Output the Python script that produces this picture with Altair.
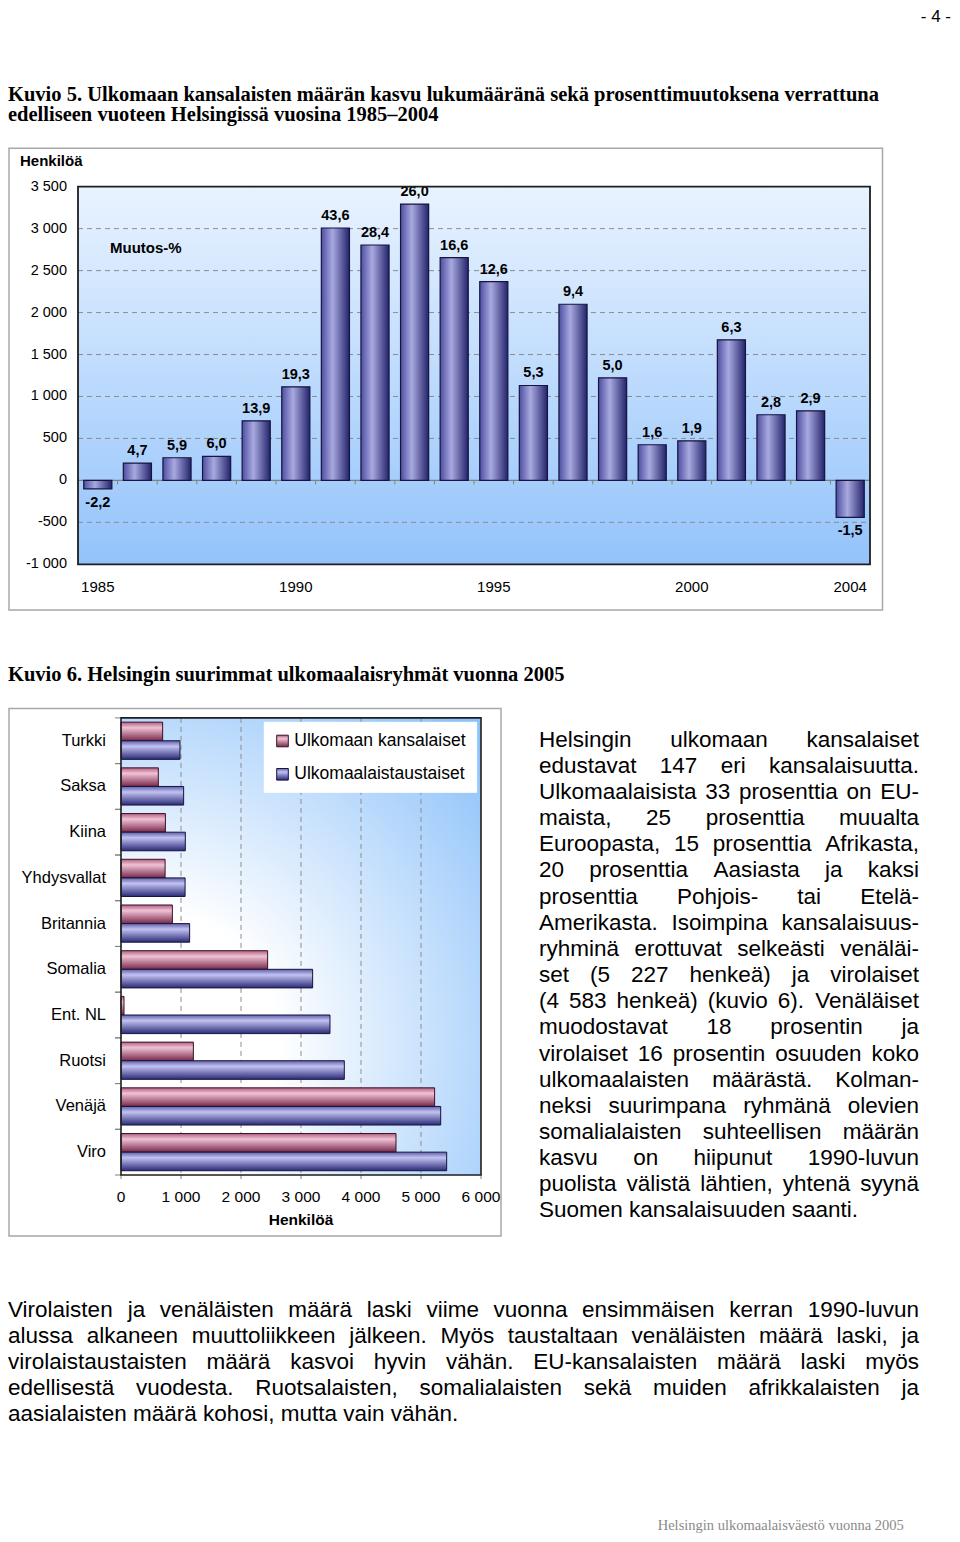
import altair as alt
import pandas as pd

# ------------------------------------------------------------------ data
years = list(range(1985, 2005))
increase = [-100, 206, 270, 286, 710, 1115, 3008, 2805, 3293, 2655,
            2369, 1131, 2099, 1222, 425, 472, 1675, 782, 829, -440]
change_pct = [-2.2, 4.7, 5.9, 6.0, 13.9, 19.3, 43.6, 28.4, 26.0, 16.6,
              12.6, 5.3, 9.4, 5.0, 1.6, 1.9, 6.3, 2.8, 2.9, -1.5]
y1_ticks = [-1000, -500, 0, 500, 1000, 1500, 2000, 2500, 3000, 3500]
y1_grid = [-500, 500, 1000, 1500, 2000, 2500, 3000]
year_ticklabels = [1985, 1990, 1995, 2000, 2004]

countries = ["Turkki", "Saksa", "Kiina", "Yhdysvallat", "Britannia",
             "Somalia", "Ent. NL", "Ruotsi", "Venäjä", "Viro"]
citizens = [694, 622, 740, 735, 856, 2444, 50, 1206, 5227, 4583]
background = [983, 1044, 1072, 1068, 1144, 3194, 3483, 3722, 5328, 5428]
series_names = ["Ulkomaan kansalaiset", "Ulkomaalaistaustaiset"]
x2_ticks = [0, 1000, 2000, 3000, 4000, 5000, 6000]
x2_grid = [1000, 2000, 3000, 4000, 5000]

page_no = "- 4 -"
title5 = ["Kuvio 5. Ulkomaan kansalaisten määrän kasvu lukumääränä sekä prosenttimuutoksena verrattuna",
          "edelliseen vuoteen Helsingissä vuosina 1985–2004"]
title6 = "Kuvio 6. Helsingin suurimmat ulkomaalaisryhmät vuonna 2005"
side_text = [
    "Helsingin ulkomaan kansalaiset",
    "edustavat 147 eri kansalaisuutta.",
    "Ulkomaalaisista 33 prosenttia on EU-",
    "maista, 25 prosenttia muualta",
    "Euroopasta, 15 prosenttia Afrikasta,",
    "20 prosenttia Aasiasta ja kaksi",
    "prosenttia Pohjois- tai Etelä-",
    "Amerikasta. Isoimpina kansalaisuus-",
    "ryhminä erottuvat selkeästi venäläi-",
    "set (5 227 henkeä) ja virolaiset",
    "(4 583 henkeä) (kuvio 6). Venäläiset",
    "muodostavat 18 prosentin ja",
    "virolaiset 16 prosentin osuuden koko",
    "ulkomaalaisten määrästä. Kolman-",
    "neksi suurimpana ryhmänä olevien",
    "somalialaisten suhteellisen määrän",
    "kasvu on hiipunut 1990-luvun",
    "puolista välistä lähtien, yhtenä syynä",
    "Suomen kansalaisuuden saanti.",
]
bottom_text = [
    "Virolaisten ja venäläisten määrä laski viime vuonna ensimmäisen kerran 1990-luvun",
    "alussa alkaneen muuttoliikkeen jälkeen. Myös taustaltaan venäläisten määrä laski, ja",
    "virolaistaustaisten määrä kasvoi hyvin vähän. EU-kansalaisten määrä laski myös",
    "edellisestä vuodesta. Ruotsalaisten, somalialaisten sekä muiden afrikkalaisten ja",
    "aasialaisten määrä kohosi, mutta vain vähän.",
]
footer = "Helsingin ulkomaalaisväestö vuonna 2005"

# ------------------------------------------------------------------ layout
W, H = 944, 1526
SANS = "Liberation Sans"
SERIF = "Liberation Serif"
F1 = (1, 874.5, 140.3, 602.0)      # chart 1 frame
P1 = (70, 862, 178.7, 556.3)       # chart 1 plot area
ZERO1 = P1[3] - (P1[3] - P1[2]) * 1000 / 4500
F2 = (1, 493, 700.6, 1228.0)       # chart 2 frame
P2 = (113, 473, 709.9, 1167.0)     # chart 2 plot area
L2 = (256.3, 468.7, 714.3, 784.3)  # chart 2 legend box
GRID = "#8c8c8c"
TICK = "#808080"

one = pd.DataFrame({"k": [0]})


def box(b, **kw):
    return alt.Chart(one).mark_rect(**kw).encode(
        x=alt.value(b[0]), x2=alt.value(b[1]), y=alt.value(b[2]), y2=alt.value(b[3]))


def grad(stops, x1=0, y1=0, x2=0, y2=1):
    return {"gradient": "linear", "x1": x1, "y1": y1, "x2": x2, "y2": y2,
            "stops": [{"offset": o, "color": c} for o, c in stops]}


def text_layer(rows, **mark):
    return alt.Chart(pd.DataFrame(rows)).mark_text(**mark).encode(
        x=alt.X("x:Q", scale=None, axis=None),
        y=alt.Y("y:Q", scale=None, axis=None),
        text="t:N")


def thousands(v):
    return f"{v:,}".replace(",", " ")


# Arial / Liberation Sans advance widths (1/1000 em) for justification
AW = {' ': 278, '.': 278, ',': 278, '-': 333, '(': 333, ')': 333, '%': 889, '–': 556,
      'a': 556, 'b': 556, 'c': 500, 'd': 556, 'e': 556, 'f': 278, 'g': 556, 'h': 556,
      'i': 222, 'j': 222, 'k': 500, 'l': 222, 'm': 833, 'n': 556, 'o': 556, 'p': 556,
      'q': 556, 'r': 333, 's': 500, 't': 278, 'u': 556, 'v': 500, 'w': 722, 'x': 500,
      'y': 500, 'z': 500, 'ä': 556, 'ö': 556, 'å': 556,
      'A': 667, 'B': 667, 'C': 722, 'D': 722, 'E': 667, 'F': 611, 'G': 778, 'H': 722,
      'I': 278, 'J': 500, 'K': 667, 'L': 556, 'M': 833, 'N': 722, 'O': 778, 'P': 667,
      'Q': 778, 'R': 722, 'S': 667, 'T': 611, 'U': 722, 'V': 667, 'W': 944, 'X': 667,
      'Y': 667, 'Z': 611}


def justify(lines, x0, x1, y0, pitch, size):
    left, right = [], []
    for i, line in enumerate(lines):
        y = y0 + i * pitch
        words = line.split(" ")
        if i == len(lines) - 1 or len(words) < 2:
            left.append({"t": line, "x": x0, "y": y})
            continue
        widths = [sum(AW.get(c, 556) for c in w) * size / 1000 for w in words]
        gap = (x1 - x0 - sum(widths)) / (len(words) - 1)
        x = x0
        for j, w in enumerate(words[:-1]):
            left.append({"t": w, "x": x, "y": y})
            x += widths[j] + gap
        right.append({"t": words[-1], "x": x1, "y": y})
    return left, right


# ------------------------------------------------------------------ chart 1
df1 = pd.DataFrame({"year": years, "count": increase,
                    "label": [f"{v:.1f}".replace(".", ",") for v in change_pct]})
xs1 = alt.Scale(type="band", domain=years, range=[P1[0], P1[1]],
                paddingInner=0.29, paddingOuter=0.145)
xs1_edges = alt.Scale(type="band", domain=years, range=[P1[0], P1[1]],
                      paddingInner=0, paddingOuter=0)
ys1 = alt.Scale(type="linear", domain=[-1000, 3500], range=[P1[3], P1[2]], nice=False)

bar1_fill = grad([(0, "#4e4ea2"), (0.4, "#a9a9e0"), (1, "#23236c")], 0, 0, 1, 0)
bg1_fill = grad([(0, "#e9f3ff"), (1, "#93c3fb")])

grid1 = alt.Chart(pd.DataFrame({"count": y1_grid})).mark_rule(
    color=GRID, strokeDash=[5, 4], strokeWidth=1).encode(
    y=alt.Y("count:Q", scale=ys1, axis=None),
    x=alt.value(P1[0]), x2=alt.value(P1[1]))
zero1 = alt.Chart(pd.DataFrame({"count": [0]})).mark_rule(
    color=TICK, strokeWidth=1.2).encode(
    y=alt.Y("count:Q", scale=ys1, axis=None),
    x=alt.value(P1[0]), x2=alt.value(P1[1]))

bars1 = alt.Chart(df1).mark_bar(fill=bar1_fill, stroke="#15153e", strokeWidth=1.2).encode(
    x=alt.X("year:O", scale=xs1, axis=None),
    y=alt.Y("count:Q", scale=ys1, axis=None),
    y2=alt.datum(0),
)

lab_pos = alt.Chart(df1).transform_filter("datum.count >= 0").mark_text(
    font=SANS, fontSize=14.5, fontWeight="bold", baseline="alphabetic", dy=-8,
    color="#000000").encode(
    x=alt.X("year:O", scale=xs1, axis=None),
    y=alt.Y("count:Q", scale=ys1, axis=None), text="label:N")
lab_neg = alt.Chart(df1).transform_filter("datum.count < 0").mark_text(
    font=SANS, fontSize=14.5, fontWeight="bold", baseline="middle", dy=14,
    color="#000000").encode(
    x=alt.X("year:O", scale=xs1, axis=None),
    y=alt.Y("count:Q", scale=ys1, axis=None), text="label:N")

ylab1 = alt.Chart(pd.DataFrame({"count": y1_ticks,
                                "t": [thousands(v) for v in y1_ticks]})).mark_text(
    font=SANS, fontSize=14.5, align="right", baseline="middle", color="#000000").encode(
    y=alt.Y("count:Q", scale=ys1, axis=None), x=alt.value(P1[0] - 11), text="t:N")
xlab1 = alt.Chart(pd.DataFrame({"year": year_ticklabels,
                                "t": [str(y) for y in year_ticklabels]})).mark_text(
    font=SANS, fontSize=15, align="center", baseline="middle", color="#000000").encode(
    x=alt.X("year:O", scale=xs1, axis=None), y=alt.value(578.7), text="t:N")

chart1 = alt.layer(grid1, zero1, bars1, lab_pos, lab_neg, ylab1, xlab1)

xtick1 = alt.Chart(pd.DataFrame({"year": years})).mark_rule(
    color=TICK, strokeWidth=1).encode(
    x=alt.X("year:O", scale=xs1_edges, axis=None, bandPosition=0),
    y=alt.value(ZERO1), y2=alt.value(ZERO1 + 4))

# ------------------------------------------------------------------ chart 2
df2 = pd.DataFrame({"country": countries * 2,
                    "series": [series_names[0]] * len(countries) + [series_names[1]] * len(countries),
                    "n": citizens + background})
xs2 = alt.Scale(type="linear", domain=[0, 6000], range=[P2[0], P2[1]], nice=False)
ys2 = alt.Scale(type="band", domain=countries, range=[P2[2], P2[3]],
                paddingInner=0.186, paddingOuter=0.093)
ys2_edges = alt.Scale(type="band", domain=countries, range=[P2[2], P2[3]],
                      paddingInner=0, paddingOuter=0)
yo2 = alt.Scale(type="band", domain=series_names, paddingInner=0, paddingOuter=0)

pink_fill = grad([(0, "#b0627f"), (0.3, "#f0c2d5"), (1, "#78284a")])
blue_fill = grad([(0, "#6060aa"), (0.3, "#c2c2f2"), (1, "#2a2a78")])
bg2_fill = {"gradient": "radial", "x1": 0.15, "y1": 0.72, "r1": 0,
            "x2": 0.15, "y2": 0.72, "r2": 1.0,
            "stops": [{"offset": 0, "color": "#ffffff"}, {"offset": 0.3, "color": "#ffffff"},
                      {"offset": 1, "color": "#8cc1fa"}]}

grid2 = alt.Chart(pd.DataFrame({"n": x2_grid})).mark_rule(
    color=GRID, strokeDash=[5, 4], strokeWidth=1).encode(
    x=alt.X("n:Q", scale=xs2, axis=None),
    y=alt.value(P2[2]), y2=alt.value(P2[3]))

pink = alt.Chart(df2).transform_filter(
    alt.datum.series == series_names[0]).mark_bar(
    fill=pink_fill, stroke="#3e1028", strokeWidth=1).encode(
    x=alt.X("n:Q", scale=xs2, axis=None),
    x2=alt.datum(0),
    y=alt.Y("country:N", scale=ys2, sort=countries, axis=None),
    yOffset=alt.YOffset("series:N", scale=yo2),
)
blue = alt.Chart(df2).transform_filter(
    alt.datum.series == series_names[1]).mark_bar(
    fill=blue_fill, stroke="#15153e", strokeWidth=1).encode(
    x=alt.X("n:Q", scale=xs2, axis=None),
    x2=alt.datum(0),
    y=alt.Y("country:N", scale=ys2, sort=countries, axis=None),
    yOffset=alt.YOffset("series:N", scale=yo2),
)

ylab2 = alt.Chart(pd.DataFrame({"country": countries})).mark_text(
    font=SANS, fontSize=16.5, align="right", baseline="middle", color="#000000").encode(
    y=alt.Y("country:N", scale=ys2, sort=countries, axis=None),
    x=alt.value(P2[0] - 15), text="country:N")
xlab2 = alt.Chart(pd.DataFrame({"n": x2_ticks,
                                "t": [thousands(v) for v in x2_ticks]})).mark_text(
    font=SANS, fontSize=15.5, align="center", baseline="middle", color="#000000").encode(
    x=alt.X("n:Q", scale=xs2, axis=None), y=alt.value(1189.4), text="t:N")
xtick2 = alt.Chart(pd.DataFrame({"n": x2_ticks})).mark_rule(
    color=TICK, strokeWidth=1).encode(
    x=alt.X("n:Q", scale=xs2, axis=None),
    y=alt.value(P2[3]), y2=alt.value(P2[3] + 4))

chart2 = alt.layer(grid2, pink, blue, ylab2, xlab2, xtick2)

ytick2_top = alt.Chart(pd.DataFrame({"country": countries})).mark_rule(
    color=TICK, strokeWidth=1).encode(
    y=alt.Y("country:N", scale=ys2_edges, sort=countries, axis=None, bandPosition=0),
    x=alt.value(P2[0] - 6), x2=alt.value(P2[0]))
ytick2_bot = alt.Chart(pd.DataFrame({"country": countries})).mark_rule(
    color=TICK, strokeWidth=1).encode(
    y=alt.Y("country:N", scale=ys2_edges, sort=countries, axis=None, bandPosition=1),
    x=alt.value(P2[0] - 6), x2=alt.value(P2[0]))

# legend of chart 2
legend_parts = [box(L2, fill="#ffffff", stroke="#ffffff")]
for yc, f, s in [(733, pink_fill, "#3e1028"), (766.3, blue_fill, "#15153e")]:
    legend_parts.append(box((L2[0] + 12.4, L2[0] + 24, yc - 5.8, yc + 5.8),
                            fill=f, stroke=s, strokeWidth=1))
legend_text = text_layer(
    [{"t": series_names[0], "x": L2[0] + 30, "y": 733},
     {"t": series_names[1], "x": L2[0] + 30, "y": 766.3}],
    font=SANS, fontSize=17.5, align="left", baseline="middle", color="#000000")

# ------------------------------------------------------------------ texts
BODY = 22.5
side_l, side_r = justify(side_text, 531, 911, 738.7, 26.15, BODY)
bot_l, bot_r = justify(bottom_text, 0, 911, 1308.7, 26.1, BODY)
body_left = text_layer(side_l + bot_l, font=SANS, fontSize=BODY, align="left",
                       baseline="alphabetic", color="#000000")
body_right = text_layer(side_r + bot_r, font=SANS, fontSize=BODY, align="right",
                        baseline="alphabetic", color="#000000")

titles = text_layer(
    [{"t": title5[0], "x": 0, "y": 93}, {"t": title5[1], "x": 0, "y": 113},
     {"t": title6, "x": 0, "y": 673}],
    font=SERIF, fontSize=20.5, fontWeight="bold", align="left", baseline="alphabetic",
    color="#000000")
page_text = text_layer([{"t": page_no, "x": 943, "y": 14}], font=SANS, fontSize=17,
                       align="right", baseline="alphabetic", color="#000000")
footer_text = text_layer([{"t": footer, "x": 649.7, "y": 1522}], font=SERIF,
                         fontSize=14.5, align="left", baseline="alphabetic",
                         color="#8a8a8a")
chart_labels = alt.layer(
    text_layer([{"t": "Henkilöä", "x": 12, "y": 153}, {"t": "Muutos-%", "x": 102, "y": 240.3}],
               font=SANS, fontSize=15, fontWeight="bold", align="left",
               baseline="middle", color="#000000"),
    text_layer([{"t": "Henkilöä", "x": (P2[0] + P2[1]) / 2, "y": 1211.8}],
               font=SANS, fontSize=15.5, fontWeight="bold", align="center",
               baseline="middle", color="#000000"),
)

# ------------------------------------------------------------------ assemble
layers = [
    box(F1, filled=False, stroke="#a8a8a8", strokeWidth=1.5),
    box(P1, fill=bg1_fill),
    chart1,
    xtick1,
    box(P1, filled=False, stroke="#1e1e1e", strokeWidth=1.8),
    box(F2, filled=False, stroke="#a8a8a8", strokeWidth=1.5),
    box(P2, fill=bg2_fill),
    chart2,
    ytick2_top, ytick2_bot,
    box(P2, filled=False, stroke="#1e1e1e", strokeWidth=1.6),
    *legend_parts,
    legend_text,
    chart_labels,
    titles, page_text, body_left, body_right, footer_text,
]

chart = alt.layer(*layers).resolve_scale(
    x="independent", y="independent", yOffset="independent"
).properties(
    width=W, height=H, padding=0, background="#ffffff",
    autosize=alt.AutoSizeParams(type="none"),
).configure_view(stroke=None).configure_axis(disable=True)

chart.save("out.html", embed_options={"renderer": "svg", "actions": False})
